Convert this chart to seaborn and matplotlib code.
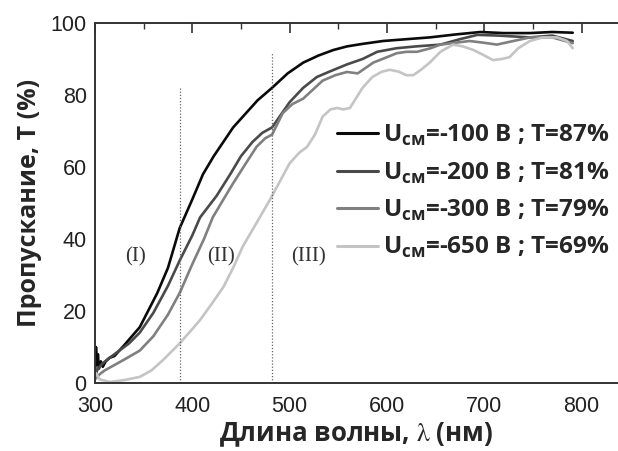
import numpy as np
import pandas as pd
import matplotlib
matplotlib.use("Agg")
import matplotlib.pyplot as plt
from matplotlib.lines import Line2D
import seaborn as sns

# ---- data ----
series_names = ["-100", "-200", "-300", "-650"]
legend_labels = [r"$\mathbf{U}_{\mathbf{см}}$=-100 В ; T=87%",
                 r"$\mathbf{U}_{\mathbf{см}}$=-200 В ; T=81%",
                 r"$\mathbf{U}_{\mathbf{см}}$=-300 В ; T=79%",
                 r"$\mathbf{U}_{\mathbf{см}}$=-650 В ; T=69%"]

wl_100 = [300, 301, 302, 303, 304, 306, 308, 311, 315, 320, 330, 346, 364, 375, 387, 400, 411, 422,
          432, 442, 452, 467, 482, 498, 514, 530, 545, 559, 575, 596, 620, 644, 670, 696, 720, 747, 770, 791]
t_100 = [2, 10, 5, 8, 4, 6, 4.5, 6, 7, 7.5, 10.5, 15.5, 25, 32, 43, 51, 58, 63,
         67, 71, 74, 78.5, 82, 86, 89, 91, 92.5, 93.5, 94.2, 95, 95.5, 96, 96.8, 97.5, 97.2, 97.2, 97.5, 97.3]

wl_200 = [300, 303, 308, 315, 325, 335, 346, 360, 375, 387, 400, 408, 425, 439, 450, 462, 472, 482,
          491, 500, 514, 528, 541, 559, 575, 590, 610, 630, 655, 675, 693, 715, 747, 770, 791]
t_200 = [2, 4, 5.5, 7, 9, 11, 14, 19.5, 27, 34, 41, 46, 52, 58, 63, 67, 69.5, 71,
         74.5, 78, 82, 85, 86.5, 88.5, 90, 92, 93, 93.5, 94, 95.5, 96.7, 96.5, 96, 96.5, 95]

wl_300 = [300, 305, 310, 320, 330, 346, 360, 375, 387, 400, 412, 421, 432, 442, 455, 466, 475, 482,
          493, 503, 514, 524, 534, 547, 559, 570, 586, 600, 610, 620, 631, 645, 655, 670, 685, 700,
          713, 730, 747, 770, 791]
t_300 = [1, 2.5, 3.5, 5, 6.5, 9, 13, 19, 25, 33, 40, 46, 51, 55.5, 61, 65.6, 68, 69,
         75, 77.5, 79, 81.5, 84, 85.5, 86.4, 86, 89, 90.5, 91.6, 92, 92, 93, 94, 94.5, 95, 94.5,
         94, 95, 96, 96, 94.4]

wl_650 = [300, 305, 315, 330, 346, 358, 370, 387, 400, 408, 420, 432, 442, 452, 465, 480, 490, 500,
          510, 518, 526, 534, 542, 549, 555, 562, 568, 575, 585, 595, 603, 612, 620, 627, 635, 644,
          655, 668, 678, 689, 700, 709, 718, 726, 735, 747, 760, 775, 785, 791]
t_650 = [3, 1, 0.3, 0.8, 1.7, 3.5, 6.4, 11, 15, 17.5, 22, 26.7, 32, 38, 44, 51, 56, 61,
         64, 65.6, 69, 74, 76, 76.4, 76, 76.4, 79, 82, 85, 86.5, 87, 86.5, 85.5, 85.5, 87, 89,
         92, 94, 93.5, 92.5, 91, 89.7, 90, 90.5, 93, 95, 96, 96, 95, 93]

region_labels = ["(I)", "(II)", "(III)"]
region_x = [342, 430, 519]
region_y = [35, 35, 35]
boundary_x = [387, 482]
boundary_top = [82, 91.7]

xticks = [300, 400, 500, 600, 700, 800]
yticks = [0, 20, 40, 60, 80, 100]

colors = ["#0a0a0a", "#4a4a4a", "#808080", "#c4c4c4"]

# ---- build table ----
frames = []
for name, wl, t in zip(series_names, [wl_100, wl_200, wl_300, wl_650], [t_100, t_200, t_300, t_650]):
    frames.append(pd.DataFrame({"wl": wl, "T": t, "series": name}))
df = pd.concat(frames, ignore_index=True)

sns.set_style("white")
plt.rcParams["font.family"] = ["Liberation Sans", "DejaVu Sans"]
plt.rcParams["mathtext.fontset"] = "custom"
plt.rcParams["mathtext.bf"] = "Open Sans:bold"
plt.rcParams["mathtext.rm"] = "Open Sans"

fig = plt.figure(figsize=(6.18, 4.51), dpi=100)
ax = fig.add_axes([95 / 618, 1 - 383 / 451, 1 - 95 / 618, (383 - 23) / 451])

sns.lineplot(data=df, x="wl", y="T", hue="series", palette=dict(zip(series_names, colors)),
             hue_order=series_names, estimator=None, sort=False, linewidth=1.9, legend=False, ax=ax)

for bx, bt in zip(boundary_x, boundary_top):
    ax.plot([bx, bx], [0, bt], color="#666666", linestyle=(0, (1, 1.5)), linewidth=0.9)

for lab, xx, yy in zip(region_labels, region_x, region_y):
    ax.text(xx, yy, lab, family="Liberation Serif", fontsize=15, color="#333333",
            ha="center", va="center")

ax.set_xlim(300, 837.5)
ax.set_ylim(0, 100)
ax.set_xticks(xticks)
ax.set_yticks(yticks)
ax.set_xticks([350, 450, 550, 650, 750], minor=True)
ax.set_yticks([10, 30, 50, 70, 90], minor=True)
ax.tick_params(axis="both", which="major", direction="in", length=7, width=1.2, color="#333333",
               labelsize=15.5, labelcolor="#222222", top=True)
ax.tick_params(axis="x", which="major", pad=9)
ax.tick_params(axis="y", which="major", pad=6)
ax.tick_params(axis="both", which="minor", direction="in", length=4, width=1.0, color="#333333", top=True)
ax.tick_params(axis="x", which="both", labeltop=False)

for side in ["left", "bottom", "top"]:
    ax.spines[side].set_visible(True)
    ax.spines[side].set_color("#333333")
    ax.spines[side].set_linewidth(1.4)
ax.spines["right"].set_visible(False)

ax.set_xlabel(r"Длина волны, $\mathrm{\lambda}$ (нм)", family="Open Sans", fontweight="bold",
              fontsize=18.6, math_fontfamily="stix", labelpad=3)
ax.set_ylabel("Пропускание, Т (%)", family="Open Sans", fontweight="bold", fontsize=18, labelpad=6)

handles = [Line2D([], [], color=c, linewidth=2.2) for c in colors]
leg = ax.legend(handles, legend_labels, loc="upper left", bbox_to_anchor=(337 / 618, 1 - 123 / 451),
                bbox_transform=fig.transFigure, frameon=False, borderpad=0, borderaxespad=0,
                handlelength=1.7, handletextpad=0.2, labelspacing=0.5,
                prop={"family": "Open Sans", "weight": "bold", "size": 17.5})

fig.savefig("out.png", dpi=100, facecolor="white")
